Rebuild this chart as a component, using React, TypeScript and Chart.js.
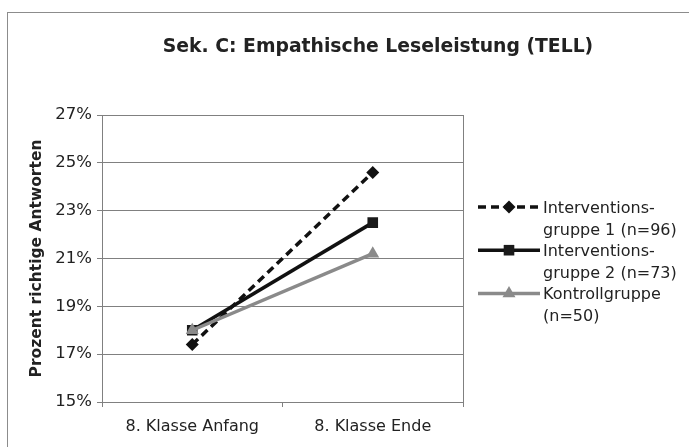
import React, { useEffect, useRef } from 'react';
import { Chart, registerables } from 'chart.js';

Chart.register(...registerables);

const categories = ['8. Klasse Anfang', '8. Klasse Ende'];
const group1 = [17.4, 24.6];
const group2 = [18.0, 22.5];
const control = [18.0, 21.2];
const seriesLabels = [
  ['Interventions-', 'gruppe 1 (n=96)'],
  ['Interventions-', 'gruppe 2 (n=73)'],
  ['Kontrollgruppe', '(n=50)'],
];
const yMin = 15;
const yMax = 27;
const yStep = 2;
const chartTitle = 'Sek. C: Empathische Leseleistung (TELL)';
const yTitle = 'Prozent richtige Antworten';

const FONT = "'DejaVu Sans', Verdana, sans-serif";
const TEXT = '#222222';
const GRID = '#808080';

function drawMarker(ctx: CanvasRenderingContext2D, style: string, x: number, y: number, r: number, color: string) {
  ctx.save();
  ctx.fillStyle = color;
  ctx.setLineDash([]);
  ctx.beginPath();
  if (style === 'rectRot') {
    ctx.moveTo(x - r, y);
    ctx.lineTo(x, y - r);
    ctx.lineTo(x + r, y);
    ctx.lineTo(x, y + r);
    ctx.closePath();
  } else if (style === 'rect') {
    const s = Math.SQRT1_2 * r;
    ctx.rect(x - s, y - s, 2 * s, 2 * s);
  } else {
    ctx.moveTo(x, y - r);
    ctx.lineTo(x + r * 0.866, y + r * 0.5);
    ctx.lineTo(x - r * 0.866, y + r * 0.5);
    ctx.closePath();
  }
  ctx.fill();
  ctx.restore();
}

const decorPlugin = {
  id: 'decor',
  beforeDraw(chart: any) {
    const ctx = chart.ctx as CanvasRenderingContext2D;
    ctx.save();
    ctx.fillStyle = '#ffffff';
    ctx.fillRect(0, 0, chart.width, chart.height);
    ctx.strokeStyle = '#8c8c8c';
    ctx.lineWidth = 1;
    ctx.strokeRect(7.5, 12.5, chart.width + 10, chart.height + 10);
    ctx.restore();
  },
  beforeDatasetsDraw(chart: any) {
    const ctx = chart.ctx as CanvasRenderingContext2D;
    const a = chart.chartArea;
    ctx.save();
    ctx.strokeStyle = GRID;
    ctx.lineWidth = 1;
    ctx.strokeRect(Math.round(a.left) + 0.5, Math.round(a.top) + 0.5, Math.round(a.right - a.left), Math.round(a.bottom - a.top));
    ctx.restore();
  },
  afterDraw(chart: any) {
    const ctx = chart.ctx as CanvasRenderingContext2D;
    ctx.save();
    // title
    ctx.fillStyle = TEXT;
    ctx.font = `bold 18.8px ${FONT}`;
    ctx.textAlign = 'center';
    ctx.textBaseline = 'alphabetic';
    ctx.fillText(chartTitle, 378, 52);
    // legend
    const x0 = 478;
    const x1 = 540;
    const tx = 543;
    const lh = 21.6;
    let baseline = 213;
    ctx.font = `16px ${FONT}`;
    ctx.textAlign = 'left';
    chart.data.datasets.forEach((ds: any, i: number) => {
      const lines = seriesLabels[i];
      const ly = baseline - 6;
      ctx.save();
      ctx.strokeStyle = ds.borderColor;
      ctx.lineWidth = ds.borderWidth;
      ctx.setLineDash(ds.borderDash || []);
      ctx.beginPath();
      ctx.moveTo(x0, ly);
      ctx.lineTo(x1, ly);
      ctx.stroke();
      ctx.restore();
      drawMarker(ctx, ds.pointStyle, (x0 + x1) / 2, ly, ds.pointRadius, ds.pointBackgroundColor);
      ctx.fillStyle = TEXT;
      lines.forEach((t: string) => {
        ctx.fillText(t, tx, baseline);
        baseline += lh;
      });
    });
    ctx.restore();
  },
};

export default function App() {
  const ref = useRef<HTMLCanvasElement | null>(null);
  useEffect(() => {
    if (!ref.current) return;
    const chart = new Chart(ref.current, {
      type: 'line',
      data: {
        labels: categories,
        datasets: [
          {
            label: seriesLabels[0].join(' '),
            data: group1,
            borderColor: '#111111',
            borderWidth: 3.5,
            borderDash: [8, 5],
            pointStyle: 'rectRot',
            pointRadius: 6.5,
            pointBackgroundColor: '#111111',
            pointBorderColor: '#111111',
            pointBorderWidth: 0,
            order: 2,
          },
          {
            label: seriesLabels[1].join(' '),
            data: group2,
            borderColor: '#111111',
            borderWidth: 3.5,
            pointStyle: 'rect',
            pointRadius: 7.5,
            pointBackgroundColor: '#1a1a1a',
            pointBorderColor: '#1a1a1a',
            pointBorderWidth: 0,
            order: 1,
          },
          {
            label: seriesLabels[2].join(' '),
            data: control,
            borderColor: '#8a8a8a',
            borderWidth: 3.5,
            pointStyle: 'triangle',
            pointRadius: 7.5,
            pointBackgroundColor: '#8a8a8a',
            pointBorderColor: '#8a8a8a',
            pointBorderWidth: 0,
            order: 0,
          },
        ],
      },
      options: {
        animation: false,
        responsive: true,
        maintainAspectRatio: false,
        layout: { padding: { left: 0, right: 226, top: 115, bottom: 0 } },
        plugins: {
          legend: { display: false },
          title: { display: false },
          tooltip: { enabled: false },
        },
        elements: { line: { tension: 0 } },
        scales: {
          x: {
            type: 'category',
            offset: true,
            grid: { display: true, drawOnChartArea: false, drawTicks: true, tickLength: 5, color: GRID, offset: true },
            border: { display: true, color: GRID },
            ticks: { color: TEXT, font: { family: FONT, size: 16 }, padding: 10, maxRotation: 0 },
            afterFit: (s: any) => { s.height = 45; },
          },
          y: {
            min: yMin,
            max: yMax,
            ticks: {
              stepSize: yStep,
              color: TEXT,
              font: { family: FONT, size: 16.5 },
              padding: 5,
              callback: (v: any) => `${v}%`,
            },
            grid: { color: GRID, tickLength: 5, drawTicks: true },
            border: { display: true, color: GRID },
            title: {
              display: true,
              text: yTitle,
              color: TEXT,
              font: { family: FONT, size: 15.5, weight: 'bold' },
              padding: { top: 28, bottom: 0 },
            },
            afterFit: (s: any) => { s.width = 102; },
          },
        },
      },
      plugins: [decorPlugin],
    } as any);
    return () => chart.destroy();
  }, []);
  return (
    <div style={{ position: 'fixed', left: 0, top: 0, width: 689, height: 447, background: '#fff' }}>
      <canvas ref={ref} />
    </div>
  );
}
